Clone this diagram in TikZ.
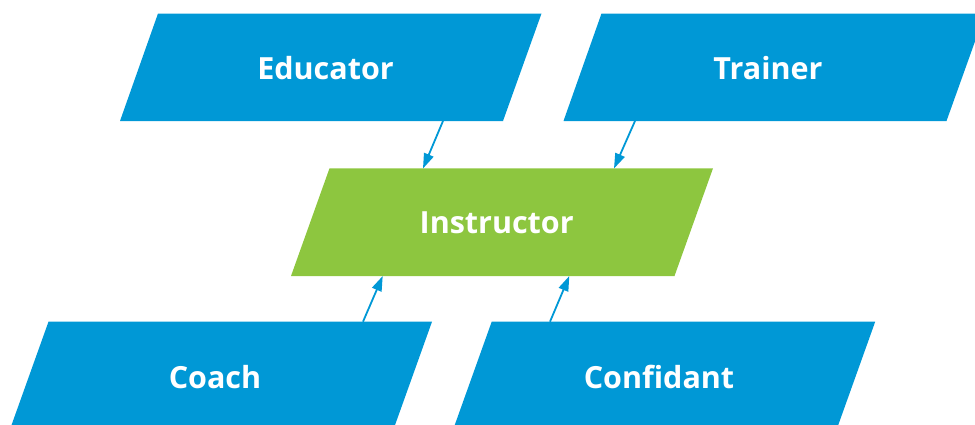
\documentclass[tikz,border=0pt]{standalone}
\usepackage{fontspec}
\setmainfont{Open Sans}
\usetikzlibrary{arrows.meta}
\definecolor{cblue}{RGB}{0,152,214}
\definecolor{cgreen}{RGB}{141,198,63}
\begin{document}
\begin{tikzpicture}[x=1pt,y=-1pt,
  bluebox/.style={fill=cblue},
  greenbox/.style={fill=cgreen},
  lbl/.style={text=white,font=\bfseries\fontsize{30.5}{36}\selectfont,anchor=base,inner sep=0pt},
  link/.style={draw=cblue,line width=1.8pt,-{Triangle[length=15pt,width=10pt]}}]
\clip (0,0) rectangle (975,424);
% shapes
\path[bluebox]  (158,13.5) -- (541.5,13.5) -- (503,121) -- (120,121) -- cycle;
\path[bluebox]  (601.5,13.5) -- (985,13.5) -- (946.5,121) -- (563.5,121) -- cycle;
\path[greenbox] (329.5,168.3) -- (713,168.3) -- (674.5,276) -- (291,276) -- cycle;
\path[bluebox]  (48.5,321.7) -- (432,321.7) -- (393.5,429.3) -- (10,429.3) -- cycle;
\path[bluebox]  (491.7,321.7) -- (875.2,321.7) -- (836.7,429.3) -- (453.2,429.3) -- cycle;
% labels
\node[lbl] (edu) at (325.5,79) {Educator};
\node[lbl] (tra) at (768,79) {Trainer};
\node[lbl] (ins) at (496.7,233.3) {Instructor};
\node[lbl] (coa) at (215,388.3) {Coach};
\node[lbl] (con) at (659,388.3) {Confidant};
% connector end points on the borders
\coordinate (eduOut) at (443,121);
\coordinate (insInA) at (423,168.5);
\coordinate (traOut) at (635,121);
\coordinate (insInB) at (614,168.5);
\coordinate (coaOut) at (363,321.7);
\coordinate (insInC) at (382.7,276);
\coordinate (conOut) at (550,321.7);
\coordinate (insInD) at (569.3,276);
\draw[link] (eduOut) -- (insInA);
\draw[link] (traOut) -- (insInB);
\draw[link] (coaOut) -- (insInC);
\draw[link] (conOut) -- (insInD);
\end{tikzpicture}
\end{document}
